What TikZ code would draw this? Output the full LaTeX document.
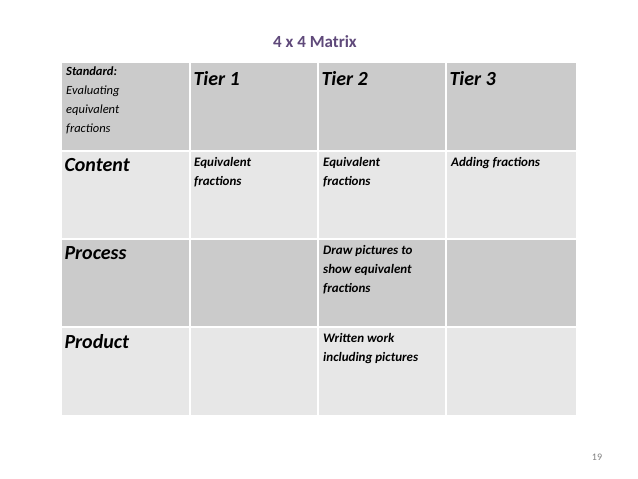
\documentclass[tikz,border=0pt]{standalone}
\usepackage{fontspec}
\setmainfont{Carlito}
\begin{document}
\begin{tikzpicture}[x=1pt,y=-1pt,
 big/.style={anchor=north west,font=\fontsize{20}{24}\selectfont\bfseries\itshape},
 small/.style={anchor=north west,align=left,font=\fontsize{13}{19}\selectfont\bfseries\itshape,inner sep=0pt}]
\useasboundingbox (0,0) rectangle (638,479);
\definecolor{hdr}{HTML}{CBCBCB}\definecolor{lite}{HTML}{E7E7E7}\definecolor{ttl}{HTML}{5F497A}
\foreach \r/\c in {0/hdr,1/lite,2/hdr,3/lite}{
 \foreach \x/\w in {62/128,190/128,318/128,446/130}{
  \fill[\c] (\x,{63+88*\r}) rectangle ++(\w,88);
 }}
\foreach \x in {190,318,446}{\draw[white,line width=1.2pt] (\x,63) -- (\x,415);}
\foreach \y in {151,239,327}{\draw[white,line width=1.2pt] (62,\y) -- (576,\y);}
\node[font=\fontsize{17}{20}\selectfont\bfseries,text=ttl] (title) at (315,42) {4 x 4 Matrix};
\node[small,font=\fontsize{12.5}{19}\selectfont\itshape] (std) at (66,67) {\textbf{Standard:}\\Evaluating\\equivalent\\fractions};
\node[big] (t1) at (190,68) {Tier 1};
\node[big] (t2) at (318,68) {Tier 2};
\node[big] (t3) at (446,68) {Tier 3};
\node[big] (c) at (61,155) {Content};
\node[big] (p) at (61,243) {Process};
\node[big] (pr) at (61,331) {Product};
\node[small] (c1) at (194,157) {Equivalent\\fractions};
\node[small] (c2) at (323,157) {Equivalent\\fractions};
\node[small] (c3) at (451,157) {Adding fractions};
\node[small] (p2) at (323,245) {Draw pictures to\\show equivalent\\fractions};
\node[small] (pr2) at (323,333) {Written work\\including pictures};
\node[font=\fontsize{10}{11}\selectfont,text=gray] (pg) at (597,457) {19};
\end{tikzpicture}
\end{document}
